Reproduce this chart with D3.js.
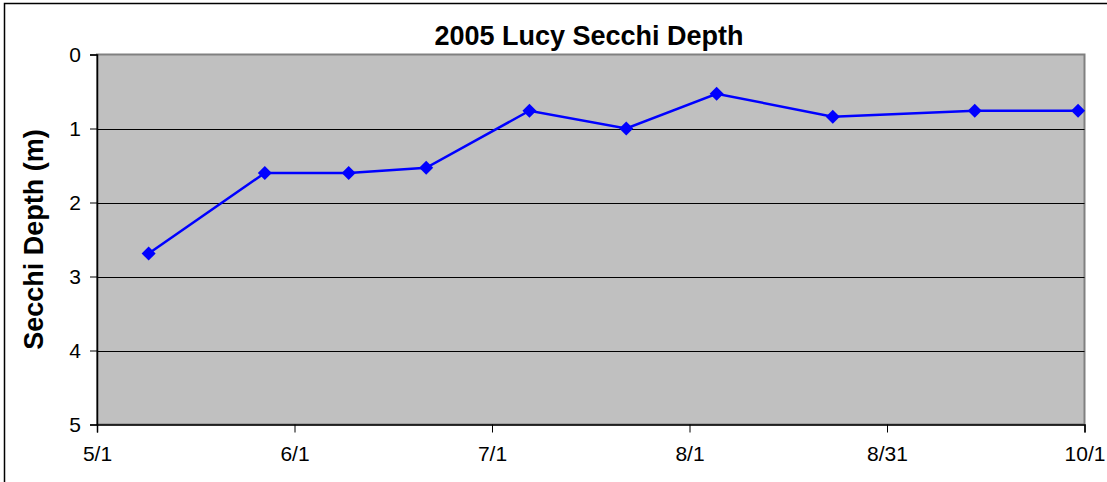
<!DOCTYPE html>
<html>
<head>
<meta charset="utf-8">
<script src="https://cdn.jsdelivr.net/npm/d3@7"></script>
<style>
  body { margin: 0; background: #fff; }
  text { font-family: "Liberation Sans", Arial, sans-serif; }
</style>
</head>
<body>
<div id="target"></div>
<script>
const sampleDates = ["2005-05-09", "2005-05-27", "2005-06-09", "2005-06-21", "2005-07-07",
  "2005-07-22", "2005-08-05", "2005-08-23", "2005-09-14", "2005-09-30"];
const secchiDepth = [2.69, 1.6, 1.6, 1.53, 0.76, 1.0, 0.53, 0.84, 0.76, 0.76];
const xTickLabels = ["5/1", "6/1", "7/1", "8/1", "8/31", "10/1"];
const yTicks = [0, 1, 2, 3, 4, 5];

const width = 1107,
  height = 482;
const plot = { left: 97, top: 54.5, right: 1084.5, bottom: 424.5 };

const start = Date.UTC(2005, 4, 1),
  end = Date.UTC(2005, 9, 1);
// excel spreads the major units evenly over the date range
const xTickValues = xTickLabels.map((d, i) => new Date(start + i * (end - start) / (xTickLabels.length - 1)));

const x = d3.scaleUtc()
  .domain([new Date(start), new Date(end)])
  .range([plot.left, plot.right]);

const y = d3.scaleLinear()
  .domain([0, 5])
  .range([plot.top, plot.bottom]);

const data = sampleDates.map((d, i) => ({ date: new Date(d + "T00:00:00Z"), depth: secchiDepth[i] }));

const svg = d3.select("#target").append("svg")
  .attr("width", width)
  .attr("height", height)
  .style("display", "block");

// chart area frame
svg.append("rect")
  .attr("x", 4.5)
  .attr("y", 3.5)
  .attr("width", 1300)
  .attr("height", 700)
  .attr("fill", "#fff")
  .attr("stroke", "#000")
  .attr("stroke-width", 1.5);

svg.append("rect")
  .attr("x", plot.left)
  .attr("y", plot.top)
  .attr("width", plot.right - plot.left)
  .attr("height", plot.bottom - plot.top)
  .attr("fill", "#c0c0c0")
  .attr("stroke", "#808080")
  .attr("stroke-width", 2);

svg.append("g")
  .selectAll("line")
  .data(yTicks.slice(1, -1))
  .enter()
  .append("line")
  .attr("x1", plot.left)
  .attr("x2", plot.right)
  .attr("y1", (d) => Math.round(y(d)) + 0.5)
  .attr("y2", (d) => Math.round(y(d)) + 0.5)
  .attr("stroke", "#000")
  .attr("stroke-width", 1);

const yAxis = svg.append("g")
  .attr("transform", `translate(${plot.left},0)`)
  .call(d3.axisLeft(y).tickValues(yTicks).tickSize(7).tickPadding(9).tickFormat(d3.format("d")));

const xAxis = svg.append("g")
  .attr("transform", `translate(0,${plot.bottom})`)
  .call(d3.axisBottom(x).tickValues(xTickValues).tickSize(8).tickPadding(14)
    .tickFormat((d, i) => xTickLabels[i]));

[yAxis, xAxis].forEach((g) => {
  g.select(".domain").attr("stroke", "#000").attr("stroke-width", 1.5);
  g.selectAll(".tick line").attr("stroke", "#000");
  g.selectAll("text")
    .attr("fill", "#000")
    .style("font-size", "21px");
});

const line = d3.line()
  .x((d) => x(d.date))
  .y((d) => y(d.depth));

svg.append("path")
  .datum(data)
  .attr("d", line)
  .attr("fill", "none")
  .attr("stroke", "#0000ff")
  .attr("stroke-width", 2.5);

svg.selectAll(".marker")
  .data(data)
  .enter()
  .append("path")
  .attr("class", "marker")
  .attr("d", "M0,-7L7,0L0,7L-7,0Z")
  .attr("transform", (d) => `translate(${x(d.date)},${y(d.depth)})`)
  .attr("fill", "#0000ff");

svg.append("text")
  .text("2005 Lucy Secchi Depth")
  .attr("x", 589)
  .attr("y", 45)
  .attr("text-anchor", "middle")
  .style("font-size", "27px")
  .style("font-weight", "bold");

svg.append("text")
  .text("Secchi Depth (m)")
  .attr("transform", `translate(43,${(plot.top + plot.bottom) / 2}) rotate(-90)`)
  .attr("text-anchor", "middle")
  .style("font-size", "27px")
  .style("font-weight", "bold");
</script>
</body>
</html>
